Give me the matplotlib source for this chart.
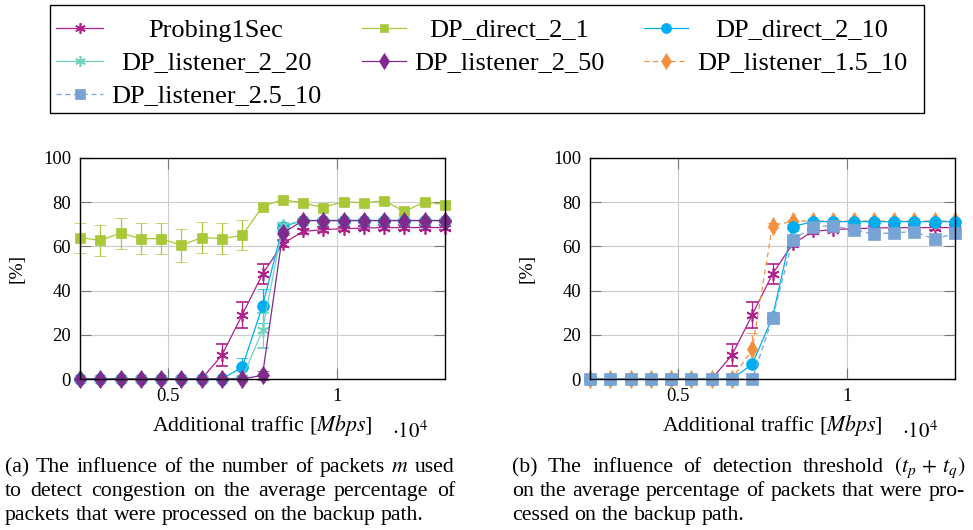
import matplotlib
matplotlib.use('Agg')
import matplotlib.pyplot as plt
from matplotlib.lines import Line2D
from matplotlib.patches import Rectangle

plt.rcParams['font.family'] = ['Liberation Serif', 'DejaVu Serif']
plt.rcParams['mathtext.fontset'] = 'stix'

# Zusätzlicher Verkehr in Mbps (x-Achse, Skala 10^4)
traffic = [2400, 3000, 3600, 4200, 4800, 5400, 6000, 6600, 7200, 7800,
           8400, 9000, 9600, 10200, 10800, 11400, 12000, 12600, 13200]

# (a) Einfluss der Paketanzahl m
probing = [0, 0, 0, 0, 0, 0, 0, 10.8, 29, 47.5, 61.2, 66.8, 67.6, 68, 68.3, 68.5, 68.5, 68.5, 68.5]
probing_err = [0, 0, 0, 0, 0, 0, 0, 5, 6, 4.7, 1.5, 1, 1, 1, 1, 1, 1, 1, 1]
direct_2_1 = [64, 62.7, 66, 63.5, 63.5, 60.5, 64, 63.5, 65, 78, 81.2, 79.6, 77.6, 80.3, 79.6, 80.7, 75.8, 80.2, 78.8]
direct_2_1_err = [6.8, 7, 7, 7, 7, 7.5, 7, 7, 6.8, 1, 1, 1, 1, 1, 1, 1, 1, 1, 1.5]
direct_2_10_a = [0, 0, 0, 0, 0, 0, 0, 0, 5.4, 33, 69, 71.7, 71.7, 71.7, 71.7, 71.7, 71.7, 71.7, 71.7]
direct_2_10_a_err = [0, 0, 0, 0, 0, 0, 0, 0, 4.2, 7.5, 1, 0.5, 0.5, 0.5, 0.5, 0.5, 0.5, 0.5, 0.5]
listener_2_20 = [0, 0, 0, 0, 0, 0, 0, 0, 0.5, 22, 69.5, 71.7, 71.7, 71.7, 71.7, 71.7, 71.7, 71.7, 71.7]
listener_2_20_err = [0, 0, 0, 0, 0, 0, 0, 0, 0.5, 8, 1, 0.5, 0.5, 0.5, 0.5, 0.5, 0.5, 0.5, 0.5]
listener_2_50 = [0, 0, 0, 0, 0, 0, 0, 0, 0, 1.7, 66, 71.7, 71.7, 71.7, 71.7, 71.7, 71.7, 71.7, 71.7]
listener_2_50_err = [0, 0, 0, 0, 0, 0, 0, 0, 0, 2, 1, 0.5, 0.5, 0.5, 0.5, 0.5, 0.5, 0.5, 0.5]

# (b) Einfluss der Erkennungsschwelle (t_p + t_q)
direct_2_10_b = [0, 0, 0, 0, 0, 0, 0, 0, 6.7, 28, 69, 71.2, 71.2, 71.2, 71.2, 71.2, 71.2, 71.2, 71.2]
direct_2_10_b_err = [0, 0, 0, 0, 0, 0, 0, 0, 1, 2, 1, 0.5, 0.5, 0.5, 0.5, 0.5, 0.5, 0.5, 0.5]
listener_1_5_10 = [0, 0, 0, 0, 0, 0, 0, 0, 13.4, 69.4, 71.4, 71.5, 71.5, 71.5, 71.5, 71.5, 71.5, 71.5, 71.5]
listener_1_5_10_err = [0, 0, 0, 0, 0, 0, 0, 0, 7.5, 1, 0.5, 0.5, 0.5, 0.5, 0.5, 0.5, 0.5, 0.5, 0.5]
listener_2_5_10 = [0, 0, 0, 0, 0, 0, 0, 0, 0, 27.6, 62.9, 69, 69.3, 67.5, 65.6, 66.2, 66.7, 63.2, 66]
listener_2_5_10_err = [0, 0, 0, 0, 0, 0, 0, 0, 0, 1.5, 1, 1, 1, 1, 1, 1, 1, 1, 1]

legend_names = ['Probing1Sec', 'DP_direct_2_1', 'DP_direct_2_10',
                'DP_listener_2_20', 'DP_listener_2_50', 'DP_listener_1.5_10',
                'DP_listener_2.5_10']

styles = {
    'Probing1Sec': dict(color='#b0208a', marker=(6, 2, 0), ms=9, ls='-', mew=1.2),
    'DP_direct_2_1': dict(color='#a8c838', marker='s', ms=7.5, ls='-', mew=0.5),
    'DP_direct_2_10': dict(color='#00aeef', marker='o', ms=8.5, ls='-', mew=0.5),
    'DP_listener_2_20': dict(color='#6fd3c0', marker=(6, 2, 0), ms=9, ls='-', mew=1.2),
    'DP_listener_2_50': dict(color='#7f2a8c', marker='d', ms=9.5, ls='-', mew=0.5),
    'DP_listener_1.5_10': dict(color='#f39040', marker='d', ms=9, ls=(0, (4, 3)), mew=0.5),
    'DP_listener_2.5_10': dict(color='#77a3d5', marker='s', ms=8.5, ls=(0, (4, 3)), mew=0.5),
}

W, H = 973, 530
fig = plt.figure(figsize=(W / 100, H / 100), dpi=100)


def fx(px):
    return px / W


def fy(py):
    return 1 - py / H


def draw(ax, name, y, err):
    st = styles[name]
    line, caps, bars = ax.errorbar(traffic, y, yerr=err, color=st['color'],
                                   marker=st['marker'], ms=st['ms'], ls=st['ls'],
                                   lw=0.9, elinewidth=0.9, capsize=4, capthick=0.9,
                                   mew=st['mew'], mec=st['color'], clip_on=False)
    if st['ls'] != '-':
        for b in bars:
            b.set_linestyle('--')


def setup(ax, left):
    ax.set_xlim(2400, 13200)
    ax.set_ylim(0, 100)
    ax.set_xticks([5000, 10000])
    ax.set_xticklabels(['0.5', '1'])
    ax.set_yticks([0, 20, 40, 60, 80, 100])
    ax.grid(True, color='#cccccc', lw=0.8)
    ax.set_axisbelow(True)
    ax.tick_params(direction='in', length=8, width=0.8, color='#777777',
                   top=True, right=True, labelsize=13.4, pad=6.5)
    for s in ax.spines.values():
        s.set_linewidth(1.0)
    cx = left + 182.5
    fig.text(fx(cx), fy(431), 'Additional traffic [$Mbps$]', fontsize=15.7,
             ha='center', va='baseline')
    fig.text(fx(left + 312), fy(438), r'$\cdot10^{4}$', fontsize=15,
             ha='left', va='baseline')
    fig.text(fx(left - 63), fy(268), '[%]', fontsize=14, rotation=90,
             ha='center', va='center')


ax_a = fig.add_axes([fx(80), fy(379), fx(445) - fx(80), fy(158) - fy(379)])
ax_b = fig.add_axes([fx(590), fy(379), fx(955) - fx(590), fy(158) - fy(379)])

draw(ax_a, 'Probing1Sec', probing, probing_err)
draw(ax_a, 'DP_direct_2_1', direct_2_1, direct_2_1_err)
draw(ax_a, 'DP_direct_2_10', direct_2_10_a, direct_2_10_a_err)
draw(ax_a, 'DP_listener_2_20', listener_2_20, listener_2_20_err)
draw(ax_a, 'DP_listener_2_50', listener_2_50, listener_2_50_err)
setup(ax_a, 80)

draw(ax_b, 'Probing1Sec', probing, probing_err)
draw(ax_b, 'DP_listener_1.5_10', listener_1_5_10, listener_1_5_10_err)
draw(ax_b, 'DP_direct_2_10', direct_2_10_b, direct_2_10_b_err)
draw(ax_b, 'DP_listener_2.5_10', listener_2_5_10, listener_2_5_10_err)
setup(ax_b, 590)

# Legende oben (manuell, Text mittig in der Spalte)
fig.add_artist(Rectangle((fx(50), fy(113)), fx(924) - fx(50), fy(5) - fy(113),
                         transform=fig.transFigure, fill=False, ec='black', lw=1.0))
handle_x = [(56, 103), (362, 406), (644, 688)]
text_cx = [216, 509, 802]
row_y = [28, 61, 94]
for k, name in enumerate(legend_names):
    col, row = k % 3, k // 3
    st = styles[name]
    x0, x1 = handle_x[col]
    y = fy(row_y[row])
    fig.add_artist(Line2D([fx(x0), fx(x1)], [y, y], transform=fig.transFigure,
                          color=st['color'], ls=st['ls'], lw=0.9))
    fig.add_artist(Line2D([fx((x0 + x1) / 2)], [y], transform=fig.transFigure,
                          color=st['color'], marker=st['marker'], ms=st['ms'] * 0.85,
                          mew=st['mew'], mec=st['color'], ls='none'))
    fig.text(fx(text_cx[col]), y, name, fontsize=19, ha='center',
             va='center_baseline')

# Bildunterschriften (Blocksatz)
CAP = 15.7
renderer = fig.canvas.get_renderer()


def put_line(words, x0, x1, y, justify):
    texts = [fig.text(0, 0, w, fontsize=CAP, va='baseline') for w in words]
    widths = [t.get_window_extent(renderer).width for t in texts]
    if justify and len(words) > 1:
        gap = (x1 - x0 - sum(widths)) / (len(words) - 1)
    else:
        gap = CAP * 100 / 72 * 0.25
    x = x0
    for t, w in zip(texts, widths):
        t.set_position((fx(x), fy(y)))
        x += w + gap


put_line('(a) The influence of the number of packets $m$ used'.split(' '), 5, 455, 472, True)
put_line('to detect congestion on the average percentage of'.split(' '), 5, 455, 496, True)
put_line('packets that were processed on the backup path.'.split(' '), 5, 455, 520, False)

put_line(['(b)', 'The', 'influence', 'of', 'detection', 'threshold', r'$(t_p\,+\,t_q)$'],
         512, 965, 472, True)
put_line('on the average percentage of packets that were pro-'.split(' '), 512, 965, 496, True)
put_line('cessed on the backup path.'.split(' '), 512, 965, 520, False)

fig.savefig('out.png', dpi=100)
